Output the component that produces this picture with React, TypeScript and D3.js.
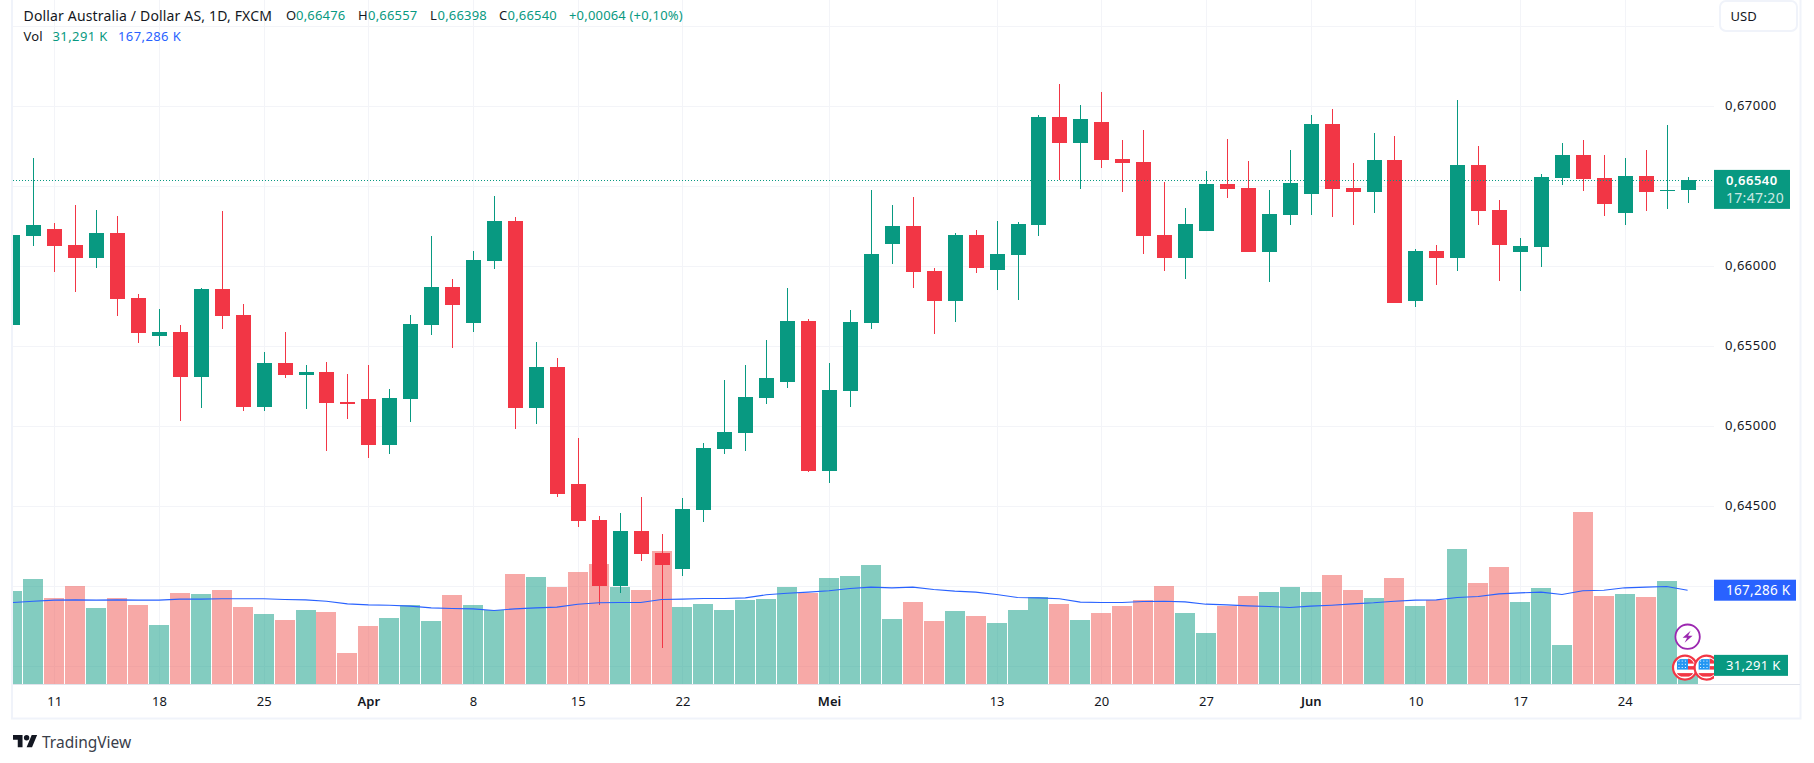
import { useEffect, useRef } from "react"
import * as d3 from "d3"

const WIDTH = 1814
const HEIGHT = 763

// AUDUSD daily, 7 Mar - 27 Jun
const opens = [
  0.65635, 0.6619, 0.66233, 0.66133, 0.66052, 0.66208, 0.65802, 0.65565, 0.6559, 0.65308,
  0.65858, 0.65696, 0.65121, 0.65396, 0.65321, 0.6534, 0.65152, 0.65171, 0.64885, 0.65171,
  0.65633, 0.65871, 0.65646, 0.66033, 0.66283, 0.65115, 0.65371, 0.6464, 0.64415, 0.64002,
  0.64346, 0.64208, 0.64108, 0.64477, 0.64858, 0.64958, 0.65177, 0.65277, 0.65658, 0.64721,
  0.65221, 0.65646, 0.6614, 0.66252, 0.65971, 0.65783, 0.66196, 0.65977, 0.66071, 0.66258,
  0.66933, 0.66771, 0.66902, 0.66671, 0.66652, 0.66196, 0.66052, 0.66221, 0.66515, 0.6649,
  0.6609, 0.66321, 0.66452, 0.6689, 0.6649, 0.66465, 0.66665, 0.65783, 0.66096, 0.66052,
  0.66633, 0.66352, 0.6609, 0.66121, 0.66552, 0.66696, 0.66552, 0.66333, 0.66565, 0.66471,
  0.66476,
]
const highs = [
  0.66227, 0.66677, 0.66271, 0.66383, 0.66352, 0.66315, 0.65827, 0.65733, 0.65633, 0.65865,
  0.66346, 0.65765, 0.65465, 0.6559, 0.65383, 0.65402, 0.65327, 0.65383, 0.65233, 0.65696,
  0.6619, 0.65921, 0.66096, 0.6644, 0.66308, 0.65527, 0.65427, 0.64927, 0.6444, 0.64458,
  0.64558, 0.64327, 0.64552, 0.64896, 0.6529, 0.65383, 0.6554, 0.65865, 0.65671, 0.65396,
  0.65727, 0.66477, 0.66383, 0.66433, 0.6599, 0.66208, 0.66227, 0.66283, 0.66277, 0.66946,
  0.6714, 0.67008, 0.6709, 0.6679, 0.66852, 0.66527, 0.66365, 0.66596, 0.66796, 0.66658,
  0.66477, 0.66727, 0.66946, 0.66983, 0.66646, 0.66833, 0.66815, 0.66108, 0.66133, 0.6704,
  0.66752, 0.66415, 0.66177, 0.66577, 0.66771, 0.6679, 0.66696, 0.66677, 0.66727, 0.66883,
  0.66557,
]
const lows = [
  0.65602, 0.66127, 0.65965, 0.6584, 0.6599, 0.6569, 0.65521, 0.65502, 0.65033, 0.65115,
  0.65608, 0.65096, 0.65096, 0.65302, 0.65108, 0.64846, 0.65046, 0.64802, 0.64827, 0.65027,
  0.65571, 0.6549, 0.6559, 0.65983, 0.64983, 0.65015, 0.64558, 0.64371, 0.63883, 0.63958,
  0.64158, 0.63615, 0.64065, 0.64402, 0.64827, 0.64846, 0.6514, 0.6524, 0.64715, 0.64646,
  0.65121, 0.65608, 0.66015, 0.65865, 0.65577, 0.65652, 0.65958, 0.65852, 0.6579, 0.6619,
  0.6654, 0.66483, 0.66615, 0.66465, 0.66077, 0.65971, 0.65921, 0.66221, 0.66427, 0.6609,
  0.65902, 0.66258, 0.66321, 0.66308, 0.66258, 0.66333, 0.65771, 0.65746, 0.65883, 0.65971,
  0.66258, 0.65908, 0.65846, 0.65996, 0.66508, 0.66471, 0.66315, 0.66258, 0.66346, 0.66358,
  0.66398,
]
const closes = [
  0.66196, 0.66258, 0.66127, 0.66052, 0.66208, 0.65796, 0.65583, 0.6559, 0.65308, 0.65858,
  0.6569, 0.65121, 0.65396, 0.65321, 0.6534, 0.65146, 0.6514, 0.64885, 0.65177, 0.6564,
  0.65871, 0.65758, 0.6604, 0.66283, 0.65115, 0.65371, 0.64577, 0.64408, 0.64002, 0.64346,
  0.64202, 0.64133, 0.64483, 0.64865, 0.64965, 0.65183, 0.65302, 0.65658, 0.64721, 0.65227,
  0.65652, 0.66077, 0.66252, 0.65965, 0.65783, 0.66196, 0.6599, 0.66077, 0.66265, 0.66933,
  0.66771, 0.66921, 0.66665, 0.66646, 0.6619, 0.66052, 0.66265, 0.66515, 0.66483, 0.6609,
  0.66327, 0.66521, 0.6689, 0.66483, 0.66465, 0.66665, 0.65771, 0.66096, 0.66052, 0.66633,
  0.66346, 0.66133, 0.66127, 0.66558, 0.66696, 0.66546, 0.6639, 0.66565, 0.66465, 0.66477,
  0.6654,
]
// volume in K
const volumes = [
  165600, 186900, 153100, 174400, 135400, 153100, 140700, 105300, 162000, 160200,
  167300, 137200, 124800, 114100, 131900, 128300, 55600, 103500, 117700, 140700,
  112300, 158500, 140700, 131900, 195700, 190400, 172700, 199300, 213500, 172700,
  167300, 236500, 137200, 142500, 131900, 149600, 151400, 172700, 162600, 188600,
  192200, 211700, 115900, 146100, 112300, 130100, 121200, 108800, 131900, 154900,
  142500, 114100, 126500, 139000, 149600, 174400, 126500, 91100, 139000, 156700,
  163800, 172700, 163800, 193900, 167300, 153100, 188600, 139000, 149600, 240100,
  179800, 208100, 146100, 170900, 69800, 305700, 156700, 160200, 154900, 183300,
  31291,
]
const volumeMa = [
  145500, 147800, 149600, 150200, 149600, 150200, 149600, 149600, 151400, 151400,
  152000, 152000, 152000, 150800, 150200, 147800, 143100, 141300, 140700, 139000,
  136000, 134800, 134200, 131300, 134200, 136000, 137200, 142500, 144900, 145500,
  145500, 150800, 151400, 152600, 152600, 153700, 159100, 162000, 163800, 166200,
  170300, 172700, 171500, 172700, 168500, 165600, 163800, 159700, 154300, 153700,
  152000, 146100, 145500, 145500, 147200, 147800, 146600, 142500, 141300, 139500,
  138400, 136600, 139000, 140700, 143100, 144900, 147800, 149600, 150200, 154300,
  156100, 160800, 162600, 163800, 159700, 166200, 167300, 171500, 172700, 173800,
  167286,
]

const timeTickIndex = [2, 7, 12, 17, 22, 27, 32, 39, 47, 52, 57, 62, 67, 72, 77]
const timeTickLabels = ["11", "18", "25", "Apr", "8", "15", "22", "Mei", "13", "20", "27", "Jun", "10", "17", "24"]
const monthLabels = ["Apr", "Mei", "Jun"]
const priceGrid = [0.675, 0.67, 0.665, 0.66, 0.655, 0.65, 0.645, 0.64, 0.635]
const priceTicks = [0.67, 0.66, 0.655, 0.65, 0.645]

const lastPrice = 0.6654
const lastVolume = 31291
const lastMa = 167286

const GREEN = "#089981"
const RED = "#f23645"
const BLUE = "#2962ff"
const TEXT = "#131722"
const GRID = "#f3f4f8"
const FRAME = "#f0f3fa"
const FONT = "'Noto Sans', Roboto, sans-serif"

const idr = d3.formatLocale({ decimal: ",", thousands: ".", grouping: [3], currency: ["", ""] })
const fmtPrice = idr.format(".5f")

export default function App() {
  const ref = useRef<SVGSVGElement>(null)

  useEffect(() => {
    if (!ref.current) return
    d3.select(ref.current).selectAll("*").remove()

    const plot = { left: 13, right: 1714, bottom: 684.5 }
    const svg = d3.select(ref.current)

    const x = d3.scaleLinear().domain([0, 80]).range([12.4, 1687.6])
    const y = d3.scaleLinear().domain([0.67, 0.66]).range([106.3, 266.3])
    const yVol = d3.scaleLinear().domain([0, 354800]).range([plot.bottom, plot.bottom - 200])

    const clip = svg.append("defs").append("clipPath").attr("id", "plot-clip")
    clip.append("rect").attr("x", plot.left).attr("y", 0)
      .attr("width", plot.right - plot.left).attr("height", plot.bottom)

    // grid
    svg.append("g").selectAll("line").data(priceGrid).enter().append("line")
      .attr("x1", plot.left).attr("x2", plot.right)
      .attr("y1", d => Math.round(y(d)) + 0.5).attr("y2", d => Math.round(y(d)) + 0.5)
      .attr("stroke", GRID).attr("stroke-width", 1)
    svg.append("g").selectAll("line").data(timeTickIndex).enter().append("line")
      .attr("x1", d => Math.round(x(d)) + 0.5).attr("x2", d => Math.round(x(d)) + 0.5)
      .attr("y1", 0).attr("y2", plot.bottom)
      .attr("stroke", GRID).attr("stroke-width", 1)

    const chart = svg.append("g").attr("clip-path", "url(#plot-clip)")

    // volume
    chart.append("g").selectAll("rect").data(volumes).enter().append("rect")
      .attr("x", (_, i) => Math.round(x(i)) - 10)
      .attr("y", d => yVol(d))
      .attr("width", 20)
      .attr("height", d => plot.bottom - yVol(d))
      .attr("fill", (_, i) => (closes[i] >= opens[i] ? "rgb(8,153,129)" : "rgb(239,83,80)"))
      .attr("opacity", 0.5)
      .attr("shape-rendering", "crispEdges")

    // candles
    const candles = chart.append("g").selectAll("g").data(opens).enter().append("g")
      .attr("shape-rendering", "crispEdges")
    const candleColor = (i: number) => (closes[i] >= opens[i] ? GREEN : RED)
    candles.append("rect")
      .attr("x", (_, i) => Math.round(x(i)))
      .attr("y", (_, i) => y(highs[i]))
      .attr("width", 1)
      .attr("height", (_, i) => y(lows[i]) - y(highs[i]))
      .attr("fill", (_, i) => candleColor(i))
    candles.append("rect")
      .attr("x", (_, i) => Math.round(x(i)) - 7)
      .attr("y", (_, i) => y(Math.max(opens[i], closes[i])))
      .attr("width", 15)
      .attr("height", (_, i) => Math.max(1, Math.abs(y(opens[i]) - y(closes[i]))))
      .attr("fill", (_, i) => candleColor(i))

    // volume average
    const maLine = d3.line<number>().x((_, i) => x(i)).y(d => yVol(d))
    chart.append("path").datum(volumeMa)
      .attr("d", maLine)
      .attr("fill", "none")
      .attr("stroke", BLUE)
      .attr("stroke-width", 1.1)

    // last price line
    chart.append("line")
      .attr("x1", plot.left).attr("x2", plot.right)
      .attr("y1", Math.round(y(lastPrice)) + 0.5).attr("y2", Math.round(y(lastPrice)) + 0.5)
      .attr("stroke", GREEN).attr("stroke-width", 1).attr("stroke-dasharray", "1 2")

    // frame
    svg.append("rect").attr("x", 12).attr("y", -2).attr("width", 1788.5).attr("height", 720.5)
      .attr("fill", "none").attr("stroke", FRAME).attr("stroke-width", 2)
    svg.append("line").attr("x1", 13).attr("x2", 1800)
      .attr("y1", 684.5).attr("y2", 684.5).attr("stroke", "#e0e3eb").attr("stroke-width", 1)

    // time axis
    const timeAxis = svg.append("g")
      .attr("transform", `translate(0,${plot.bottom})`)
      .call(d3.axisBottom(x).tickValues(timeTickIndex).tickSize(0).tickPadding(12)
        .tickFormat((_, i) => timeTickLabels[i]))
    timeAxis.select(".domain").remove()
    timeAxis.selectAll("text")
      .style("font-family", FONT).style("font-size", "13px").attr("fill", TEXT)
      .style("font-weight", (d: any, i: number) => monthLabels.includes(timeTickLabels[i]) ? 600 : 400)

    // price axis
    const priceAxis = svg.append("g")
      .attr("transform", `translate(${plot.right},0)`)
      .call(d3.axisRight(y).tickValues(priceTicks).tickSize(0).tickPadding(11)
        .tickFormat(d => fmtPrice(d as number)))
    priceAxis.select(".domain").remove()
    priceAxis.selectAll("text")
      .style("font-family", FONT).style("font-size", "13px").style("letter-spacing", "0.5px")
      .attr("fill", TEXT).attr("dy", "0.28em")

    const label = (tx: number, ty: number, s: string, color: string, weight = 400, size = 13, spacing = 0) =>
      svg.append("text").attr("x", tx).attr("y", ty).attr("dominant-baseline", "central")
        .attr("fill", color).style("font-family", FONT).style("font-size", `${size}px`)
        .style("font-weight", weight).style("letter-spacing", `${spacing}px`).text(s)

    // price axis labels
    svg.append("rect").attr("x", plot.right).attr("y", y(lastPrice) - 10)
      .attr("width", 76).attr("height", 39).attr("fill", GREEN)
    label(1726, y(lastPrice), fmtPrice(lastPrice), "#ffffff", 600, 13, 0.5)
    label(1726, y(lastPrice) + 18, "17:47:20", "#ffffff", 400, 14, 0.3).attr("fill-opacity", 0.8)

    svg.append("rect").attr("x", plot.right).attr("y", yVol(lastMa) - 10.5)
      .attr("width", 82).attr("height", 21).attr("fill", BLUE)
    label(1726, yVol(lastMa), "167,286 K", "#ffffff", 400, 13.5, 0.3)

    svg.append("rect").attr("x", plot.right).attr("y", yVol(lastVolume) - 12)
      .attr("width", 74).attr("height", 21).attr("fill", GREEN)
    label(1726, yVol(lastVolume) - 1.5, "31,291 K", "#ffffff", 400, 13, 0.3)

    // USD button
    svg.append("rect").attr("x", 1720).attr("y", 1).attr("width", 77).attr("height", 30).attr("rx", 6)
      .attr("fill", "#ffffff").attr("stroke", FRAME).attr("stroke-width", 2)
    label(1730.5, 15.5, "USD", TEXT)

    // legend
    label(23.5, 15, "Dollar Australia / Dollar AS, 1D, FXCM", TEXT, 400, 14, 0.16)
    const ohlc: [number, string, number, string][] = [
      [286, "O", 296, "0,66476"],
      [358, "H", 368, "0,66557"],
      [430, "L", 437.5, "0,66398"],
      [499, "C", 507.5, "0,66540"],
    ]
    ohlc.forEach(([lx, s, vx, v]) => {
      label(lx, 15, s, TEXT)
      label(vx, 15, v, GREEN, 400, 13, 0.2)
    })
    label(569, 15, "+0,00064 (+0,10%)", GREEN, 400, 13, 0.18)
    label(23.5, 36, "Vol", TEXT, 400, 13, 0.2)
    label(52.5, 36, "31,291 K", GREEN, 400, 13, 0.4)
    label(118, 36, "167,286 K", BLUE, 400, 13, 0.4)

    // event markers on the last bar
    const bolt = svg.append("g").attr("transform", `translate(${x(80)},636.7)`)
    bolt.append("circle").attr("r", 12.2).attr("fill", "#ffffff").attr("stroke", "#9c27b0").attr("stroke-width", 1.8)
    bolt.append("path").attr("d", "M3,-6 L-5,1 L-0.5,1 L-3,6 L5,-1 L0.5,-1 Z").attr("fill", "#9c27b0")

    const flagClip = svg.select("defs").append("clipPath").attr("id", "flag-clip")
    flagClip.append("circle").attr("r", 10)
    const markers = svg.append("g").attr("clip-path", "url(#plot-clip)")
    ;[x(80) - 2.6, x(80) + 19].forEach(cx => {
      const g = markers.append("g").attr("transform", `translate(${cx},667.6)`)
      g.append("circle").attr("r", 12).attr("fill", "#ffffff").attr("stroke", RED).attr("stroke-width", 2.2)
      const f = g.append("g").attr("clip-path", "url(#flag-clip)")
      f.append("rect").attr("x", 3).attr("y", -9).attr("width", 8).attr("height", 5).attr("fill", RED)
      f.append("rect").attr("x", 3).attr("y", -1.5).attr("width", 8).attr("height", 3.5).attr("fill", RED)
      f.append("rect").attr("x", -11).attr("y", 5.5).attr("width", 22).attr("height", 3.5).attr("fill", RED)
      f.append("rect").attr("x", -8).attr("y", -8.5).attr("width", 11).attr("height", 10.5).attr("fill", "#2196f3")
      d3.range(3).forEach(r => d3.range(3).forEach(c => {
        f.append("rect").attr("x", -6.5 + c * 3.2).attr("y", -7 + r * 3.2)
          .attr("width", 1).attr("height", 1).attr("fill", "#ffffff")
      }))
    })

    // logo
    const logo = svg.append("g").attr("transform", "translate(13,732.3) scale(0.68)").attr("fill", TEXT)
    logo.append("path").attr("d", "M14 22H7V11H0V4h14v18zM28 22h-8l7.5-18h8L28 22z")
    logo.append("circle").attr("cx", 20).attr("cy", 8).attr("r", 4)
    label(42, 741.5, "TradingView", "#3a3e4a", 400, 15.5)
  }, [])

  return (
    <div style={{ position: "absolute", left: 0, top: 0, background: "#ffffff" }}>
      <svg ref={ref} width={WIDTH} height={HEIGHT} style={{ display: "block" }}></svg>
    </div>
  )
}
